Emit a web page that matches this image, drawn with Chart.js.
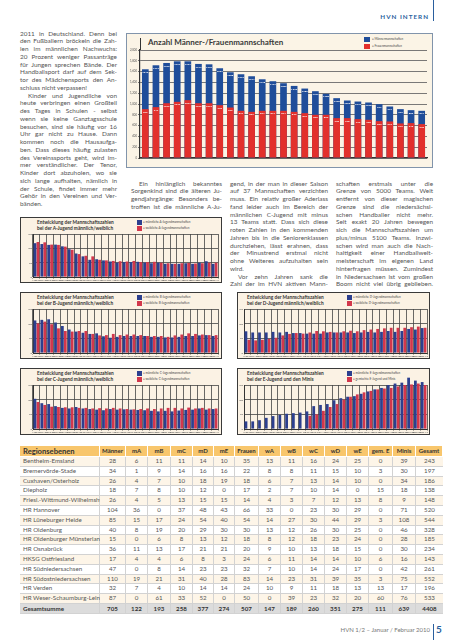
<!DOCTYPE html>
<html><head><meta charset="utf-8">
<script src="https://cdn.jsdelivr.net/npm/chart.js@4"></script>
<style>
html,body{margin:0;padding:0;background:#fff;}
body{width:453px;height:640px;position:relative;overflow:hidden;font-family:Lato,'Open Sans',sans-serif;}
.abs{position:absolute;}
.txt{position:absolute;font-size:6.4px;line-height:7.75px;color:#555;}
.txt div{text-align:justify;text-align-last:justify;white-space:nowrap;height:7.75px;}
.txt div.l{text-align-last:left;}
.txt div.i{text-indent:8px;}
.box{position:absolute;box-sizing:border-box;}
.stitle{position:absolute;font-weight:bold;font-size:4.8px;line-height:6px;color:#333;white-space:nowrap;}
.leg{position:absolute;font-size:3px;line-height:3px;color:#444;white-space:nowrap;}
.sq{position:absolute;}
.cell{position:absolute;box-sizing:border-box;font-size:6.2px;color:#555;text-align:center;white-space:nowrap;border-right:1px solid #d2d2d2;border-bottom:1px solid #d2d2d2;}
canvas{position:absolute;}
</style>
</head><body>
<script>
// ---------- data ----------
const years = ['1983','1984','1985','1986','1987','1988','1989','1990','1991','1992','1993','1994','1995','1996','1997','1998','1999','2000','2001','2002','2003','2004','2005','2006','2007','2008','2009'];
const maleTeams   = [1643,1717,1760,1791,1791,1742,1735,1662,1588,1551,1514,1458,1422,1385,1335,1286,1237,1188,1108,1065,1046,1028,997,954,905,886,874];
const femaleTeams = [905,942,1015,1040,1071,1015,1015,978,935,874,855,874,874,874,855,831,800,800,738,738,720,708,683,677,640,646,628];
const mainTicks = [0,200,400,600,800,1000,1200,1400,1600,1800,2000];

const seasons = ['1983/84','1984/85','1985/86','1986/87','1987/88','1988/89','1989/90','1990/91','1991/92','1992/93','1993/94','1994/95','1995/96','1996/97','1997/98','1998/99','1999/00','2000/01','2001/02','2002/03','2003/04','2004/05','2005/06','2006/07','2007/08','2008/09','2009/10'];
const aMale   = [118,115,112,113,107,97,82,72,60,62,58,54,50,52,52,53,50,48,50,46,46,46,48,46,50,55,46];
const aFemale = [122,121,113,112,106,95,80,74,72,60,58,56,55,54,56,52,52,53,50,48,46,48,49,47,48,50,50];
const bMale   = [111,113,115,104,92,80,73,69,65,67,57,52,55,58,58,58,58,55,55,53,53,55,58,58,60,61,58];
const bFemale = [101,107,98,84,75,73,75,75,65,60,61,65,61,63,63,61,58,58,58,55,60,63,67,65,63,61,61];
const cMale   = [103,88,85,78,72,70,75,70,68,66,64,68,66,67,66,65,64,62,60,62,60,63,65,66,70,66,68];
const cFemale = [92,82,76,75,74,74,72,72,70,71,70,72,70,68,67,68,70,68,70,72,72,70,73,70,72,70,70];
const dMale   = [74,70,70,70,72,70,72,68,68,66,66,66,70,70,70,70,68,70,72,70,72,75,72,75,82,80,85];
const dFemale = [45,43,45,48,52,60,65,68,66,70,75,74,72,70,74,76,74,78,80,82,84,86,86,86,88,90,86];
const eMale   = [26,26,30,38,44,48,52,54,56,60,78,82,85,98,105,110,112,120,128,135,140,150,155,158,175,165,160];
const eMixed  = [null,null,null,null,null,null,null,null,null,45,50,62,75,85,100,110,118,125,130,135,138,140,145,150,152,155,150];
const smallTicks = [0,50,100,150];

const tableHead = ['Regionsebenen','Männer','mA','mB','mC','mD','mE','Frauen','wA','wB','wC','wD','wE','gem. E','Minis','Gesamt'];
const regions = ['Bentheim-Emsland','Bremervörde-Stade','Cuxhaven/Osterholz','Diepholz','Friesl.-Wittmund-Wilhelmshvn.','HR Hannover','HR Lüneburger Heide','HR Oldenburg','HR Oldenburger Münsterland','HR Osnabrück','HKSG Ostfriesland','HR Südniedersachsen','HR Südostniedersachsen','HR Verden','HR Weser-Schaumburg-Leine'];
const regionValues = [
 [28,6,11,11,14,10,35,13,11,16,24,25,0,39,243],
 [34,1,9,14,16,16,22,8,8,11,15,10,3,30,197],
 [26,4,7,10,18,19,18,6,7,13,14,10,0,34,186],
 [18,7,8,10,12,0,17,2,7,10,14,0,15,18,138],
 [26,4,5,13,15,15,14,4,3,7,12,13,8,9,148],
 [104,36,0,37,48,43,66,33,0,23,30,29,0,71,520],
 [85,15,17,24,54,40,54,14,27,30,44,29,3,108,544],
 [40,8,19,20,29,30,30,13,12,26,30,25,0,46,328],
 [15,0,6,8,13,12,18,8,12,18,23,24,0,28,185],
 [36,11,13,17,21,21,20,9,10,13,18,15,0,30,234],
 [17,4,4,6,8,3,24,6,11,14,14,10,6,16,143],
 [47,0,8,14,23,23,32,7,10,14,24,17,0,42,261],
 [110,19,21,31,40,28,83,14,23,31,39,35,3,75,552],
 [32,7,4,10,14,14,24,10,9,11,18,13,13,17,196],
 [87,0,61,33,52,0,50,0,39,23,32,20,60,76,533]];
const totalLabel = 'Gesamtsumme';
const totalValues = [705,122,193,258,377,274,507,147,189,260,351,275,111,639,4408];

// ---------- helpers ----------
function el(tag, cls, css, text){const e=document.createElement(tag); if(cls) e.className=cls; if(css) Object.assign(e.style,css); if(text!==undefined) e.textContent=text; document.body.appendChild(e); return e;}
function col(x,y,w,lines){
  const d=el('div','txt',{left:x+'px',top:y+'px',width:w+'px'});
  lines.forEach(l=>{const e=document.createElement('div'); let t=l;
    if(t.startsWith('>')){e.classList.add('i'); t=t.slice(1);}
    if(t.endsWith('|')){e.classList.add('l'); t=t.slice(0,-1);}
    e.textContent=t; d.appendChild(e);});
}
Chart.defaults.font.family = 'Lato, sans-serif';
const BLUE='#1f4d9a', RED='#e2302c', SBLUE='#2c3f8f', SRED='#d2374c';

// header / footer
el('div','abs',{left:'433px',top:'0px',width:'1px',height:'21px',background:'#2a5f9e'});
el('div','abs',{right:'24px',top:'13px',fontSize:'6.3px',fontWeight:'bold',letterSpacing:'1px',color:'#2a5f9e'},'HVN INTERN');
el('div','abs',{left:'433px',top:'624px',width:'1px',height:'16px',background:'#2a5f9e'});
el('div','abs',{right:'23px',top:'626px',fontSize:'6px',color:'#777'},'HVN 1/2 – Januar / Februar 2010');
el('div','abs',{left:'436px',top:'623px',fontSize:'10px',fontWeight:'bold',color:'#2a5f9e'},'5');

// text columns
col(20,29.5,97,['2011 in Deutschland. Denn bei','den Fußballern bröckeln die Zah-','len im männlichen Nachwuchs:','20 Prozent weniger Passanträge','für Jungen sprechen Bände. Der','Handballsport darf auf dem Sek-','tor des Mädchensports den An-','schluss nicht verpassen!|','>Kinder und Jugendliche von','heute verbringen einen Großteil','des Tages in Schulen - selbst','wenn sie keine Ganztagsschule','besuchen, sind sie häufig vor 16','Uhr gar nicht zu Hause. Dann','kommen noch die Hausaufga-','ben. Dass dieses häufig zulasten','des Vereinssports geht, wird im-','mer verständlicher. Der Tenor,','Kinder dort abzuholen, wo sie','sich lange aufhalten, nämlich in','der Schule, findet immer mehr','Gehör in den Vereinen und Ver-','bänden.|']);
col(131,179.5,91,['>Ein hinlänglich bekanntes','Sorgenkind sind die älteren Ju-','gendjahrgänge: Besonders be-','troffen ist die männliche A-Ju-']);
col(230,179.5,98,['gend, in der man in dieser Saison','auf 37 Mannschaften verzichten','muss. Ein relativ großer Aderlass','fand leider auch im Bereich der','männlichen C-Jugend mit minus','13 Teams statt. Dass sich diese','roten Zahlen in den kommenden','Jahren bis in die Seniorenklassen','durchziehen, lässt erahnen, dass','der Minustrend erstmal nicht','ohne Weiteres aufzuhalten sein','wird.|','>Vor zehn Jahren sank die','Zahl der im HVN aktiven Mann-']);
col(336,179.5,97,['schaften erstmals unter die','Grenze von 5000 Teams. Weit','entfernt von dieser magischen','Grenze sind die niedersächsi-','schen Handballer nicht mehr.','Seit exakt 20 Jahren bewegen','sich die Mannschaftszahlen um','plus/minus 5100 Teams. Inzwi-','schen wird man auch die Nach-','haltigkeit einer Handballwelt-','meisterschaft im eigenen Land','hinterfragen müssen. Zumindest','in Niedersachsen ist vom großen','Boom nicht viel übrig geblieben.']);

// ---------- main chart ----------
const MB={x:126,y:33,w:307,h:135}, MP={l:140,r:427,t:50,b:158};
el('div','box',{left:MB.x+'px',top:MB.y+'px',width:MB.w+'px',height:MB.h+'px',background:'#fbf4e6',border:'1.5px solid #8194ab'});
el('div','abs',{left:'140px',top:'38px',width:'1.2px',height:'12px',background:'#333'});
el('div','abs',{left:'148px',top:'37px',fontSize:'8px',fontWeight:'bold',color:'#3a3a3a',whiteSpace:'nowrap'},'Anzahl Männer-/Frauenmannschaften');
el('div','sq',{left:'364px',top:'37px',width:'6px',height:'5px',background:BLUE});
el('div','sq',{left:'364px',top:'44px',width:'6px',height:'5px',background:RED});
el('div','leg',{left:'372px',top:'38px'},'= Männermannschaften');
el('div','leg',{left:'372px',top:'45px'},'= Frauenmannschaften');

const valueLabels={id:'valueLabels',afterDatasetsDraw(chart){
  const ctx=chart.ctx; ctx.save(); ctx.fillStyle='#fff'; ctx.font='bold 2.6px Lato'; ctx.textAlign='center'; ctx.textBaseline='top';
  chart.getSortedVisibleDatasetMetas().forEach(m=>{m.data.forEach((b,i)=>{const v=chart.data.datasets[m.index].data[i]; ctx.fillText(String(v),b.x,b.y+1.5);});});
  ctx.restore();}};

function mkCanvas(B){const c=document.createElement('canvas'); c.width=B.w; c.height=B.h; c.style.left=B.x+'px'; c.style.top=B.y+'px'; c.style.width=B.w+'px'; c.style.height=B.h+'px'; document.body.appendChild(c); return c;}

const MYW=10, MXH=6;
new Chart(mkCanvas(MB),{type:'bar',
  data:{labels:years,datasets:[
    {label:'Frauenmannschaften',data:femaleTeams,backgroundColor:RED,order:0,grouped:false},
    {label:'Männermannschaften',data:maleTeams,backgroundColor:BLUE,order:1,grouped:false}]},
  options:{responsive:false,animation:false,devicePixelRatio:1,
    layout:{padding:{left:MP.l-MB.x-MYW,right:MB.x+MB.w-MP.r,top:MP.t-MB.y,bottom:MB.y+MB.h-MP.b-MXH}},
    datasets:{bar:{categoryPercentage:1,barPercentage:0.63}},
    plugins:{legend:{display:false},tooltip:{enabled:false}},
    scales:{
      x:{grid:{display:false},border:{color:'#333',width:1.2},ticks:{font:{size:2.8},color:'#555',autoSkip:false,maxRotation:0,padding:1},afterFit(s){s.height=MXH;}},
      y:{min:0,max:2000,afterBuildTicks(s){s.ticks=mainTicks.map(v=>({value:v}));},ticks:{font:{size:2.8},color:'#555',padding:1},grid:{color:'#6a6a6a',lineWidth:0.9,tickLength:2},border:{color:'#333',width:1.2},afterFit(s){s.width=MYW;}}
    }},
  plugins:[valueLabels]});

// ---------- small charts ----------
function small(B,P,title2,leg1,leg2,legX,titleX,male,female){
  el('div','box',{left:B.x+'px',top:B.y+'px',width:B.w+'px',height:B.h+'px',background:'#fbf2e4',border:'1px solid #3a3a3a'});
  el('div','stitle',{left:(B.x+titleX)+'px',top:(B.y+2)+'px'},'Entwicklung der Mannschaftszahlen');
  el('div','stitle',{left:(B.x+titleX)+'px',top:(B.y+8)+'px'},title2);
  el('div','sq',{left:(B.x+legX)+'px',top:(B.y+3)+'px',width:'5px',height:'5px',background:SBLUE});
  el('div','sq',{left:(B.x+legX)+'px',top:(B.y+9)+'px',width:'5px',height:'5px',background:SRED});
  el('div','leg',{left:(B.x+legX+6)+'px',top:(B.y+4)+'px'},leg1);
  el('div','leg',{left:(B.x+legX+6)+'px',top:(B.y+10)+'px'},leg2);
  const YW=5, XH=4;
  new Chart(mkCanvas(B),{type:'bar',
    data:{labels:seasons,datasets:[{data:male,backgroundColor:SBLUE},{data:female,backgroundColor:SRED}]},
    options:{responsive:false,animation:false,devicePixelRatio:1,
      layout:{padding:{left:P.l-B.x-YW,right:B.x+B.w-P.r,top:P.t-B.y,bottom:B.y+B.h-P.b-XH}},
      datasets:{bar:{categoryPercentage:0.86,barPercentage:0.95,clip:false}},
      plugins:{legend:{display:false},tooltip:{enabled:false}},
      scales:{
        x:{grid:{color:'#444',lineWidth:0.8,offset:true,tickLength:1.5},border:{color:'#333',width:1},ticks:{font:{size:2.2},color:'#555',autoSkip:false,maxRotation:0,padding:0},afterFit(s){s.height=XH;}},
        y:{min:0,max:150,afterBuildTicks(s){s.ticks=smallTicks.map(v=>({value:v}));},ticks:{font:{size:2.6},color:'#555',padding:1},grid:{color:'#444',lineWidth:0.8,drawTicks:false},border:{color:'#333',width:1},afterFit(s){s.width=YW;}}
      }}});
}
small({x:20,y:217,w:202,h:66},{l:33,r:218,t:234,b:277},'bei der A-Jugend männlich/weiblich','= männliche A-Jugendmannschaften','= weibliche A-Jugendmannschaften',117,17,aMale,aFemale);
small({x:20,y:292,w:202,h:67},{l:33,r:218,t:309,b:353},'bei der B-Jugend männlich/weiblich','= männliche B-Jugendmannschaften','= weibliche B-Jugendmannschaften',117,17,bMale,bFemale);
small({x:20,y:368,w:202,h:67},{l:33,r:218,t:385,b:429},'bei der C-Jugend männlich/weiblich','= männliche C-Jugendmannschaften','= weibliche C-Jugendmannschaften',117,17,cMale,cFemale);
small({x:237,y:292,w:193,h:67},{l:244,r:427,t:309,b:353},'bei der D-Jugend männlich/weiblich','= männliche D-Jugendmannschaften','= weibliche D-Jugendmannschaften',110,10,dMale,dFemale);
small({x:237,y:368,w:193,h:67},{l:244,r:427,t:385,b:429},'bei der E-Jugend und den Minis','= männliche E-Jugendmannschaften','= gemischte E-Jugend und Minis',110,10,eMale,eMixed);

// ---------- table ----------
const colW=[80,26,22,23,22,21,21,24,22,22,22,22,22,24,23,27];
const TX=20, TY=446, HH=11, RH=9.8;
function row(y,h,cells,bg,bold,head){
  let x=TX;
  cells.forEach((t,i)=>{
    const c=el('div','cell',{left:x+'px',top:y+'px',width:colW[i]+'px',height:h+'px',lineHeight:(h-1)+'px',background:bg});
    c.textContent=t;
    if(i===0){c.style.textAlign='left';c.style.paddingLeft='3px';}
    if(bold){c.style.fontWeight='bold';c.style.color='#333';}
    if(head){c.style.borderRight='1px solid #fff';c.style.borderBottom='1px solid #fff';c.style.fontSize=i===0?'7.6px':'6px';}
    if(i===colW.length-1 && !head) c.style.borderRight='none';
    x+=colW[i];
  });
}
row(TY,HH,tableHead,'#f8c66c',true,true);
regions.forEach((r,i)=>row(TY+HH+i*RH,RH,[r].concat(regionValues[i]),i%2===0?'#fdf5e8':'#ffffff',false,false));
row(TY+HH+regions.length*RH,RH+0.5,[totalLabel].concat(totalValues),'#dcdcdc',true,false);
</script>
</body></html>
